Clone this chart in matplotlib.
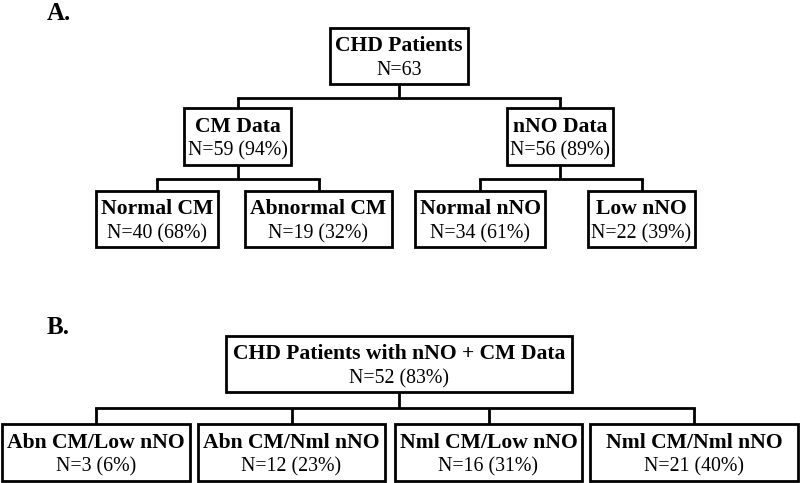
import matplotlib.pyplot as plt
from matplotlib.patches import Rectangle

plt.rcParams['font.family'] = ['Liberation Serif', 'DejaVu Serif']

# panel A: group names and counts
a_titles = ['CHD Patients', 'CM Data', 'nNO Data',
            'Normal CM', 'Abnormal CM', 'Normal nNO', 'Low nNO']
a_counts = [63, 59, 56, 40, 19, 34, 22]
a_pcts = [None, 94, 89, 68, 32, 61, 39]

# panel B
b_top_title = 'CHD Patients with nNO + CM Data'
b_top_count = 52
b_top_pct = 83
b_titles = ['Abn CM/Low nNO', 'Abn CM/Nml nNO', 'Nml CM/Low nNO', 'Nml CM/Nml nNO']
b_counts = [3, 12, 16, 21]
b_pcts = [6, 23, 31, 40]

# layout (pixels): x0, x1, y0, y1
a_boxes = [(330, 468, 28, 84),
           (184, 291, 108, 165), (507, 613, 108, 165),
           (96, 218, 191, 247), (245, 392, 191, 247),
           (415, 545, 191, 247), (588, 695, 191, 247)]
b_top_box = (226, 572, 336, 392)
b_boxes = [(2, 190, 424, 481), (198, 385, 424, 481),
           (395, 582, 424, 481), (590, 798, 424, 481)]

fig = plt.figure(figsize=(8, 4.83), dpi=100)
ax = fig.add_axes([0, 0, 1, 1])
ax.set_xlim(0, 800)
ax.set_ylim(483, 0)
ax.axis('off')

LW = 2.0
FS_BOLD = 15.6
FS_REG = 14.3


def count_text(n, p):
    return 'N=%d' % n if p is None else 'N=%d (%d%%)' % (n, p)


def draw_box(b, title, line2):
    x0, x1, y0, y1 = b
    ax.add_patch(Rectangle((x0, y0), x1 - x0, y1 - y0, fill=False,
                           edgecolor='black', linewidth=LW, zorder=3))
    cx = (x0 + x1) / 2
    h = y1 - y0
    ax.text(cx, y0 + h * 0.33, title, ha='center', va='center',
            fontsize=FS_BOLD, fontweight='bold', zorder=4)
    ax.text(cx, y0 + h * 0.76, line2, ha='center', va='center',
            fontsize=FS_REG, zorder=4)


def connect(parent, children, ybar):
    px = (parent[0] + parent[1]) / 2
    ax.plot([px, px], [parent[3], ybar], color='black', lw=LW, solid_capstyle='butt')
    cxs = [(c[0] + c[1]) / 2 for c in children]
    ax.plot([min(cxs), max(cxs)], [ybar, ybar], color='black', lw=LW,
            solid_capstyle='projecting')
    for c, cx in zip(children, cxs):
        ax.plot([cx, cx], [ybar, c[2]], color='black', lw=LW, solid_capstyle='butt')


for b, t, n, p in zip(a_boxes, a_titles, a_counts, a_pcts):
    draw_box(b, t, count_text(n, p))

connect(a_boxes[0], a_boxes[1:3], 98)
connect(a_boxes[1], a_boxes[3:5], 179)
connect(a_boxes[2], a_boxes[5:7], 179)

draw_box(b_top_box, b_top_title, count_text(b_top_count, b_top_pct))
for b, t, n, p in zip(b_boxes, b_titles, b_counts, b_pcts):
    draw_box(b, t, count_text(n, p))
connect(b_top_box, b_boxes, 408)

ax.text(47, 14, 'A.', ha='left', va='center', fontsize=18, fontweight='bold')
ax.text(47, 328, 'B.', ha='left', va='center', fontsize=18, fontweight='bold')

fig.savefig('out.png', dpi=100)
